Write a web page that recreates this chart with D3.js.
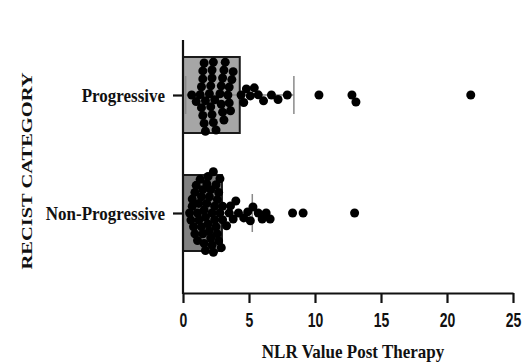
<!DOCTYPE html>
<html>
<head>
<meta charset="utf-8">
<script src="https://cdn.jsdelivr.net/npm/d3@7"></script>
<style>
  html, body { margin: 0; padding: 0; background: #fff; }
  svg { display: block; }
</style>
</head>
<body>
<svg id="chart" width="522" height="362"></svg>
<script>
// ---- data ----
const categories = ["Progressive", "Non-Progressive"];
const barMeans = [4.3, 2.95];
const barSD = [4.1, 2.3];
const progressiveValues = [
  0.66, 1.0,
  1.3, 1.4, 1.4, 1.5, 1.5, 1.5, 1.6, 1.6, 1.7, 1.7,
  2.0, 2.1, 2.1, 2.2, 2.2, 2.2, 2.3, 2.3, 2.4, 2.5,
  2.8, 2.9, 2.9, 3.0, 3.0, 3.1, 3.1, 3.2,
  3.4, 3.5, 3.5, 3.6, 3.7, 3.8,
  4.4, 4.6, 4.8, 5.1, 5.4, 5.7, 6.1, 6.7, 7.2, 7.9,
  10.3, 12.8, 13.1, 21.8
];
const nonProgressiveValues = [
  0.5, 0.6, 0.7, 0.7, 0.8, 0.9, 0.9, 1.0, 1.1, 1.1, 1.2, 1.2, 1.3, 1.4, 1.4,
  1.5, 1.5, 1.6, 1.6, 1.7, 1.7, 1.8, 1.8, 1.9, 1.9, 2.0, 2.0, 2.1, 2.1, 2.2,
  2.2, 2.3, 2.3, 2.4, 2.4, 2.5, 2.5, 2.6, 2.6, 2.7, 2.7, 2.8, 2.8, 2.9, 3.0, 3.0,
  3.3, 3.5, 3.6, 3.8, 4.0, 4.2, 4.6, 4.9, 5.1, 5.3, 5.7, 6.0, 6.3, 6.6,
  8.3, 9.1, 13.0
];
const seriesValues = [progressiveValues, nonProgressiveValues];
const xTicks = [0, 5, 10, 15, 20, 25];
const barFills = ["#a6a6a6", "#808080"];
const xTitle = "NLR Value Post Therapy";
const yTitle = "RECIST CATEGORY";

// ---- layout ----
const svg = d3.select("#chart");
const x = d3.scaleLinear().domain([0, 25]).range([183, 513]);
const y = d3.scalePoint().domain(categories).range([95, 213]);
const barH = 76;
const axisY = 293;
const axisTop = 40;
const dotR = 4.5;
const collide = [8, 7.2];

function swarm(values, d) {
  const pts = values.map(v => ({ v, px: x(v) })).sort((a, b) => a.px - b.px);
  const placed = [];
  for (const p of pts) {
    const near = placed.filter(q => p.px - q.px < d);
    const cands = [0];
    for (const q of near) {
      const dx = p.px - q.px;
      const dy = Math.sqrt(Math.max(0, d * d - dx * dx));
      cands.push(q.off + dy, q.off - dy);
    }
    cands.sort((a, b) => Math.abs(a) - Math.abs(b));
    for (const c of cands) {
      if (near.every(q => (p.px - q.px) ** 2 + (c - q.off) ** 2 >= d * d - 1e-6)) {
        p.off = c; break;
      }
    }
    if (p.off === undefined) p.off = 0;
    placed.push(p);
  }
  return pts;
}

// bars
const g = svg.append("g");
categories.forEach((c, i) => {
  const cy = y(c);
  g.append("rect")
    .attr("x", x(0))
    .attr("y", cy - barH / 2)
    .attr("width", x(barMeans[i]) - x(0))
    .attr("height", barH)
    .attr("fill", barFills[i])
    .attr("stroke", "#1a1a1a")
    .attr("stroke-width", 2);
  const lo = barMeans[i] - barSD[i], hi = barMeans[i] + barSD[i];
  const capH = 38;
  g.append("line").attr("x1", x(lo)).attr("x2", x(hi)).attr("y1", cy).attr("y2", cy)
    .attr("stroke", "#888").attr("stroke-width", 1.3);
  [lo, hi].forEach(v => {
    g.append("line").attr("x1", x(v)).attr("x2", x(v))
      .attr("y1", cy - capH / 2).attr("y2", cy + capH / 2)
      .attr("stroke", "#8a8a8a").attr("stroke-width", 1.5);
  });
});

// dots
categories.forEach((c, i) => {
  const pts = swarm(seriesValues[i], collide[i]);
  g.selectAll(null).data(pts).enter().append("circle")
    .attr("cx", d => d.px)
    .attr("cy", d => y(c) + d.off)
    .attr("r", dotR)
    .attr("fill", "#000");
});

// axes
svg.append("line").attr("x1", x(0)).attr("x2", x(0)).attr("y1", axisTop).attr("y2", axisY + 1)
  .attr("stroke", "#111").attr("stroke-width", 2.2);

const xAxis = svg.append("g").attr("transform", `translate(0,${axisY})`)
  .call(d3.axisBottom(x).tickValues(xTicks).tickFormat(d3.format("d")).tickSize(10).tickSizeOuter(0));
xAxis.select(".domain").attr("stroke", "#111").attr("stroke-width", 2.2);
xAxis.selectAll(".tick line").attr("stroke", "#111").attr("stroke-width", 2.2);
xAxis.selectAll(".tick text")
  .attr("y", 0).attr("dy", 0)
  .attr("transform", "translate(0,34) scale(1,1.5)")
  .style("font-family", "'Liberation Sans', Arial, sans-serif")
  .style("font-weight", "bold")
  .style("font-size", "14px")
  .attr("fill", "#111");

const yAxis = svg.append("g").attr("transform", `translate(${x(0)},0)`)
  .call(d3.axisLeft(y).tickSize(10).tickSizeOuter(0));
yAxis.select(".domain").remove();
yAxis.selectAll(".tick line").attr("stroke", "#111").attr("stroke-width", 2.2);
yAxis.selectAll(".tick text")
  .attr("x", 0).attr("dy", 0)
  .attr("transform", "translate(-18,6) scale(1,1.15)")
  .attr("text-anchor", "end")
  .style("font-family", "'Liberation Serif', 'Times New Roman', serif")
  .style("font-weight", "bold")
  .style("font-size", "17px")
  .attr("fill", "#111");

// titles
svg.append("text")
  .attr("transform", "translate(353,358) scale(1,1.1)")
  .attr("text-anchor", "middle")
  .style("font-family", "'Liberation Serif', 'Times New Roman', serif")
  .style("font-weight", "bold")
  .style("font-size", "17px")
  .attr("fill", "#111")
  .text(xTitle);

svg.append("text")
  .attr("transform", "translate(32,171) rotate(-90)")
  .attr("text-anchor", "middle")
  .attr("textLength", 197)
  .attr("lengthAdjust", "spacingAndGlyphs")
  .style("font-family", "'Liberation Serif', 'Times New Roman', serif")
  .style("font-weight", "bold")
  .style("font-size", "14px")
  .attr("fill", "#111")
  .text(yTitle);
</script>
</body>
</html>
